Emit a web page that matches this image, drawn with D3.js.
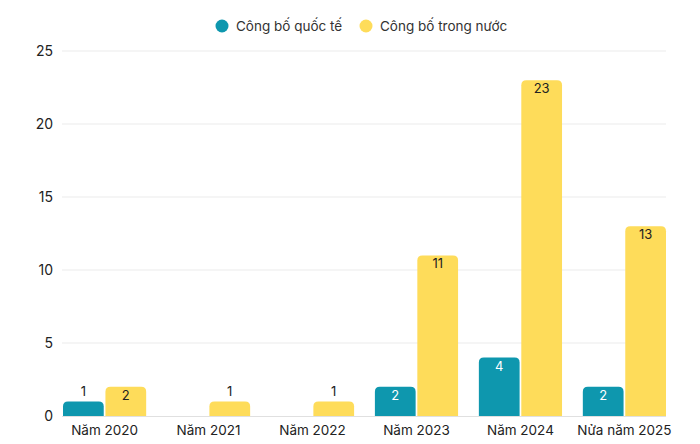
<!DOCTYPE html>
<html><head><meta charset="utf-8">
<script src="https://cdn.jsdelivr.net/npm/d3@7"></script>
<style>body{margin:0;background:#fff;} svg{display:block;font-family:Inter, "Noto Sans", sans-serif;}</style>
</head><body>
<svg id="c" width="700" height="444"></svg>
<script>
const categories = ["Năm 2020","Năm 2021","Năm 2022","Năm 2023","Năm 2024","Nửa năm 2025"];
const seriesNames = ["Công bố quốc tế","Công bố trong nước"];
const intlValues = [1,0,0,2,4,2];
const domesticValues = [2,1,1,11,23,13];
const yTicks = [0,5,10,15,20,25];
const colors = ["#0e97ae","#fedc5a"];

const svg = d3.select("#c");
const x0 = d3.scaleBand().domain(categories).range([63,666]).paddingInner(0.2).paddingOuter(0);
const x1 = d3.scaleBand().domain([0,1]).range([0,x0.bandwidth()]).paddingInner(0.04);
const y = d3.scaleLinear().domain([0,25]).range([416,51]);

// grid
const yAxis = d3.axisLeft(y).tickValues(yTicks).tickSize(0).tickPadding(0);
const ga = svg.append("g").attr("transform","translate(53,0)").call(yAxis);
ga.select(".domain").remove();
ga.selectAll("text").attr("font-size",14).attr("fill","#222").attr("font-family","Inter, sans-serif");
svg.append("g").selectAll("line").data(yTicks.filter(d=>d>0)).join("line")
  .attr("x1",62).attr("x2",666).attr("y1",d=>y(d)).attr("y2",d=>y(d))
  .attr("stroke","#ebebeb").attr("stroke-width",1);
svg.append("line").attr("x1",62).attr("x2",666).attr("y1",y(0)+0.5).attr("y2",y(0)+0.5).attr("stroke","#e0e0e0");

const data = categories.map((c,i)=>({c, vals:[intlValues[i], domesticValues[i]]}));
const r = 5;
function barPath(x,w,top,bottom){
  const rr = Math.min(r, (bottom-top), w/2);
  return `M${x},${bottom}V${top+rr}Q${x},${top} ${x+rr},${top}H${x+w-rr}Q${x+w},${top} ${x+w},${top+rr}V${bottom}Z`;
}
const g = svg.append("g");
data.forEach(d=>{
  d.vals.forEach((v,s)=>{
    if(v<=0) return;
    const bx = x0(d.c)+x1(s), bw = x1.bandwidth();
    g.append("path").attr("d",barPath(bx,bw,y(v),y(0))).attr("fill",colors[s]);
    const inside = (y(0)-y(v))>20;
    g.append("text").attr("x",bx+bw/2).attr("y",inside? y(v)+13 : y(v)-5)
      .attr("text-anchor","middle").attr("font-size",13)
      .attr("fill", inside && s===0 ? "#fff" : "#222").text(v);
  });
});

// x labels
svg.append("g").selectAll("text").data(categories).join("text")
  .attr("x",d=>x0(d)+x0.bandwidth()/2).attr("y",435).attr("text-anchor","middle")
  .attr("font-size",13.5).attr("fill","#222").text(d=>d);

// legend
const leg = [{x:222},{x:366}];
seriesNames.forEach((n,i)=>{
  svg.append("circle").attr("cx",leg[i].x).attr("cy",26).attr("r",6.5).attr("fill",colors[i]);
  svg.append("text").attr("x",leg[i].x+14).attr("y",31).attr("font-size",13.5).attr("fill","#333").text(n);
});
</script>
</body></html>
